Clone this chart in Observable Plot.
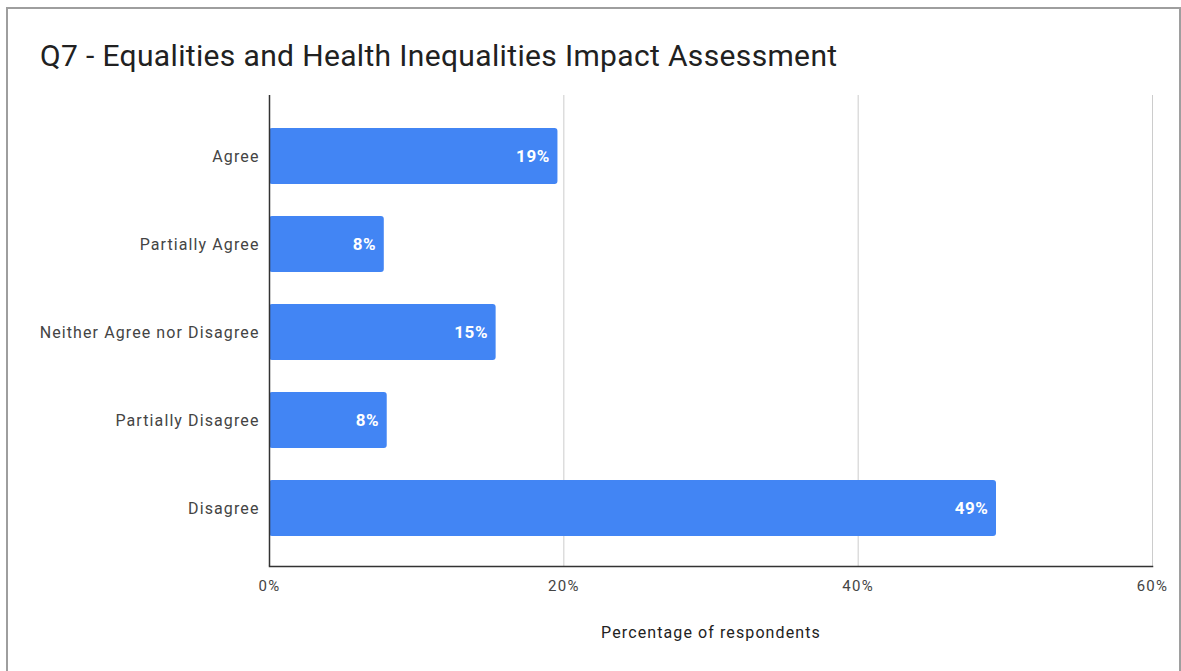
<!DOCTYPE html>
<html>
<head>
<meta charset="utf-8">
<script src="https://cdn.jsdelivr.net/npm/d3@7"></script>
<script src="https://cdn.jsdelivr.net/npm/@observablehq/plot@0.6"></script>
<style>
  html, body { margin: 0; padding: 0; background: #fff; }
  body { width: 1181px; height: 671px; position: relative; overflow: hidden; font-family: Roboto, "Noto Sans", sans-serif; }
  #frame { position: absolute; left: 6px; top: 7px; width: 1175px; height: 680px; border: 2px solid #9e9e9e; box-sizing: border-box; }
  #title { position: absolute; left: 40px; top: 38px; font-size: 30px; color: #212121; white-space: nowrap; letter-spacing: 0.35px; }
  #chart { position: absolute; left: 0; top: 0; }
  #chart g[aria-label="y-axis tick label"] text { letter-spacing: 1.1px; }
  #chart g[aria-label="x-axis tick label"] text { letter-spacing: 1.3px; }
  #chart g.value-labels text { letter-spacing: 0.6px; }
  #chart g.axis-title text { letter-spacing: 1.1px; }
</style>
</head>
<body>
<div id="frame"></div>
<div id="chart"></div>
<div id="title">Q7 - Equalities and Health Inequalities Impact Assessment</div>
<script>
const categories = ["Agree", "Partially Agree", "Neither Agree nor Disagree", "Partially Disagree", "Disagree"];
const values = [19.6, 7.8, 15.4, 8.0, 49.4];
const valueLabels = ["19%", "8%", "15%", "8%", "49%"];
const xTicks = [0, 20, 40, 60];
const xLabel = "Percentage of respondents";

const data = categories.map((c, i) => ({category: c, value: values[i], label: valueLabels[i]}));

const chart = Plot.plot({
  width: 1181,
  height: 671,
  marginLeft: 269,
  marginRight: 29,
  marginTop: 98,
  marginBottom: 105,
  style: {fontFamily: "Roboto, 'Noto Sans', sans-serif", background: "transparent"},
  x: {domain: [0, 60], ticks: xTicks, tickFormat: d => d + "%", label: xLabel, labelAnchor: "center", labelArrow: "none"},
  y: {domain: categories, paddingInner: 0.367, paddingOuter: 0.328, label: null},
  marks: [
    Plot.gridX(xTicks.filter(t => t > 0), {stroke: "#cccccc", strokeOpacity: 1, strokeWidth: 1, insetTop: -3}),
    Plot.barX(data, {x: "value", y: "category", fill: "#4285f4", rx: 3}),
    Plot.text(data, {x: "value", y: "category", text: "label", textAnchor: "end", dx: -8, fill: "#ffffff", fontWeight: "bold", fontSize: 17, className: "value-labels"}),
    Plot.ruleX([0], {stroke: "#333333", strokeWidth: 1.5, insetTop: -3}),
    Plot.frame({anchor: "bottom", stroke: "#333333", strokeWidth: 1.5}),
    Plot.axisX({ticks: xTicks, tickFormat: d => d + "%", tickSize: 0, tickPadding: 14, fontSize: 15, fill: "#444444", label: null}),
    Plot.axisY({tickSize: 0, tickPadding: 10, fontSize: 16, fill: "#444444", label: null}),
    Plot.text([xLabel], {frameAnchor: "bottom", dy: 71, fontSize: 16, fill: "#222222", text: d => d, className: "axis-title"})
  ]
});
document.getElementById("chart").appendChild(chart);
</script>
</body>
</html>
